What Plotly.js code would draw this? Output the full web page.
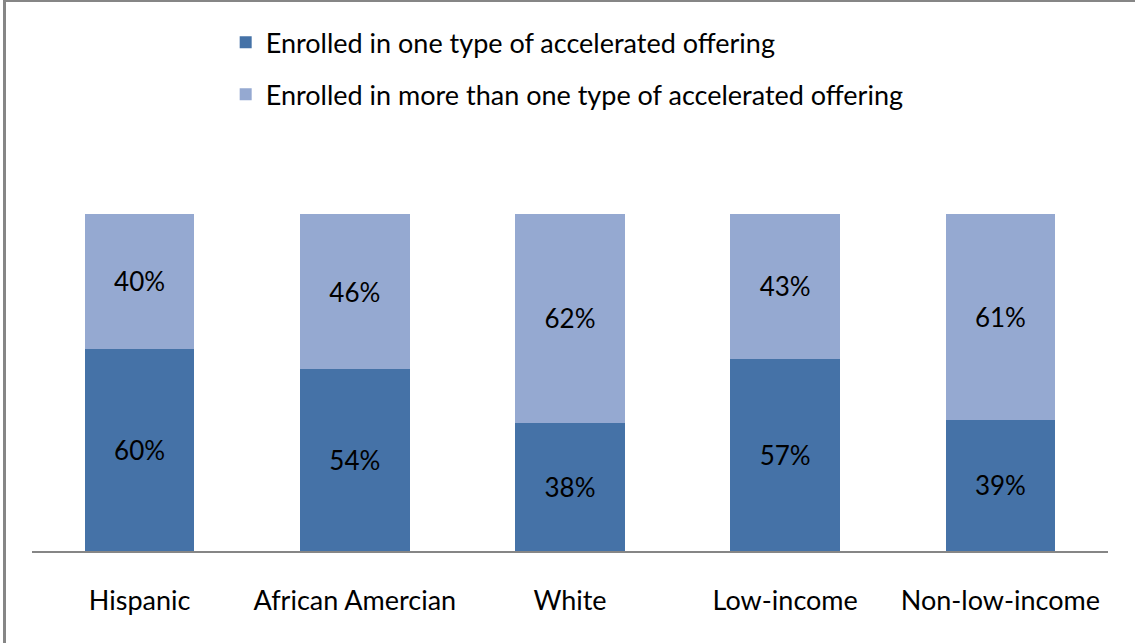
<!DOCTYPE html>
<html>
<head>
<meta charset="utf-8">
<script src="https://cdn.plot.ly/plotly-3.0.1.min.js"></script>
<style>
  html, body { margin: 0; padding: 0; background: #fff; }
  #wrap { position: relative; width: 1135px; height: 643px; }
  #chart { width: 1135px; height: 643px; }
  #frame { position: absolute; left: 3px; top: 0; width: 1132px; height: 643px;
           border-left: 3px solid #868686; border-top: 2px solid #868686;
           box-sizing: border-box; pointer-events: none; }
</style>
</head>
<body>
<div id="wrap">
  <div id="chart"></div>
  <div id="frame"></div>
</div>
<script>
const categories = ["Hispanic", "African Amercian", "White", "Low-income", "Non-low-income"];
const oneType = [60, 54, 38, 57, 39];
const moreThanOne = [40, 46, 62, 43, 61];
const seriesNames = ["Enrolled in one type of accelerated offering",
                     "Enrolled in more than one type of accelerated offering"];

const fontFam = "Lato, Noto Sans, sans-serif";

const traces = [
  {
    type: "bar", name: seriesNames[0], x: categories, y: oneType,
    text: oneType.map(v => v + "%"), textposition: "inside", insidetextanchor: "middle",
    textfont: { color: "#000", size: 26, family: fontFam },
    marker: { color: "#4572A7" }, legendgroup: "a", hoverinfo: "x+y"
  },
  {
    type: "bar", name: seriesNames[1], x: categories, y: moreThanOne,
    text: moreThanOne.map(v => v + "%"), textposition: "inside", insidetextanchor: "middle",
    textfont: { color: "#000", size: 26, family: fontFam },
    marker: { color: "#95A9D1" }, legendgroup: "b", hoverinfo: "x+y"
  }
];

const layout = {
  width: 1135, height: 643,
  margin: { l: 32, r: 27, t: 214, b: 92 },
  barmode: "stack",
  bargap: 0.49,
  paper_bgcolor: "#fff", plot_bgcolor: "#fff",
  font: { family: fontFam, color: "#000", size: 26 },
  showlegend: true,
  legend: {
    x: 0.180, y: 1.581, xanchor: "left", yanchor: "top",
    traceorder: "grouped", tracegroupgap: 14,
    font: { size: 27, family: fontFam, color: "#000" },
    itemwidth: 30, bgcolor: "rgba(0,0,0,0)"
  },
  xaxis: {
    showline: true, linecolor: "#868686", linewidth: 2,
    ticks: "", showgrid: false, zeroline: false,
    ticklabelstandoff: 25,
    tickfont: { size: 27, family: fontFam, color: "#000" },
    fixedrange: true
  },
  yaxis: {
    range: [0, 100], visible: false, showgrid: false, zeroline: false, fixedrange: true
  }
};

Plotly.newPlot("chart", traces, layout, { displayModeBar: false, staticPlot: true });
</script>
</body>
</html>
